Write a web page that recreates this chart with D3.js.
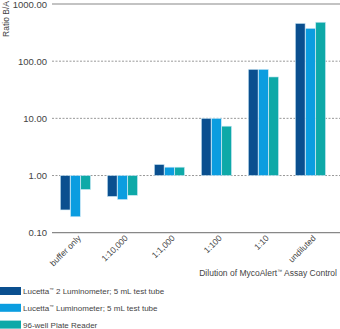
<!DOCTYPE html>
<html>
<head>
<meta charset="utf-8">
<script src="https://cdn.jsdelivr.net/npm/d3@7"></script>
<style>
  body { margin: 0; background: #fff; }
  text { font-family: "Liberation Sans", Arial, sans-serif; fill: #444; }
</style>
</head>
<body>
<svg class="chart" width="340" height="329"></svg>
<script>
const categories = ['buffer only', '1:10,000', '1:1,000', '1:100', '1:10', 'undiluted']
const seriesNames = [['Lucetta', ' 2 Luminometer; 5 mL test tube'], ['Lucetta', ' Luminometer; 5 mL test tube'], ['96-well Plate Reader', '']]
const lucetta2 = [0.25, 0.43, 1.56, 10, 72, 458]
const lucetta = [0.19, 0.38, 1.4, 10, 72, 375]
const plateReader = [0.57, 0.45, 1.4, 7.3, 53, 480]
const yTicks = [0.1, 1, 10, 100, 1000]
const colors = ['#0a4f8f', '#0b9de0', '#0ea9a8']

const series = [lucetta2, lucetta, plateReader]

const svg = d3.select('.chart')
const plotLeft = 52, plotRight = 340, plotTop = 4, plotBottom = 232.7

const y = d3.scaleLog().domain([0.1, 1000]).range([plotBottom, plotTop])
const x0 = d3.scaleBand().domain(categories).range([plotLeft, plotRight])
  .paddingInner(0.34).paddingOuter(0.234).align(0.36)
const x1 = d3.scaleBand().domain([0, 1, 2]).range([0, x0.bandwidth()]).padding(0.04)

// grid lines
svg.append('g').selectAll('line').data(yTicks).join('line')
  .attr('x1', plotLeft).attr('x2', plotRight)
  .attr('y1', d => y(d)).attr('y2', d => y(d))
  .attr('stroke', d => (d === 0.1 || d === 1000) ? '#888' : '#999')
  .attr('stroke-width', d => (d === 0.1 || d === 1000) ? 1.2 : 1)
  .attr('stroke-dasharray', d => (d === 0.1 || d === 1000) ? null : '2,1.5')

// y tick labels
svg.append('g').selectAll('text').data(yTicks).join('text')
  .attr('x', 47).attr('y', d => y(d) + 3.5)
  .attr('text-anchor', 'end')
  .attr('font-size', 9.5)
  .text(d => d3.format('.2f')(d))

// y title
svg.append('text')
  .attr('transform', 'translate(9,1) rotate(-90)')
  .attr('text-anchor', 'end')
  .attr('font-size', 8.5)
  .text('Ratio B/A')

// bars
const groups = svg.append('g').selectAll('g').data(categories).join('g')
  .attr('transform', d => `translate(${x0(d)},0)`)

groups.selectAll('rect')
  .data((c, i) => series.map((s, k) => ({ k, v: s[i] })))
  .join('rect')
  .attr('x', d => x1(d.k))
  .attr('width', x1.bandwidth())
  .attr('y', d => Math.min(y(d.v), y(1)))
  .attr('height', d => Math.abs(y(d.v) - y(1)))
  .attr('fill', d => colors[d.k])
  .attr('stroke', '#cfe9f7')
  .attr('stroke-width', 0.6)

// x labels
svg.append('g').selectAll('text').data(categories).join('text')
  .attr('transform', d => `translate(${x0(d) + x0.bandwidth() / 2 + 6},${plotBottom + 6}) rotate(-45)`)
  .attr('text-anchor', 'end')
  .attr('font-size', 8.5)
  .text(d => d)

// x title
const xTitle = svg.append('text')
  .attr('x', 337).attr('y', 276)
  .attr('text-anchor', 'end')
  .attr('font-size', 8.5)
  .attr('fill', '#333')
xTitle.append('tspan').text('Dilution of MycoAlert')
xTitle.append('tspan').attr('font-size', 5).attr('dy', -3).text('\u2122')
xTitle.append('tspan').attr('dy', 3).text(' Assay Control')

// legend
const legend = svg.append('g').selectAll('g').data(seriesNames).join('g')
  .attr('transform', (d, i) => `translate(0,${287 + i * 16.8})`)
legend.append('rect')
  .attr('width', 21).attr('height', 8)
  .attr('fill', (d, i) => colors[i])
const legendText = legend.append('text')
  .attr('x', 23).attr('y', 7)
  .attr('font-size', 8)
legendText.append('tspan').text(d => d[0])
legendText.filter(d => d[1]).append('tspan').attr('font-size', 4.5).attr('dy', -3).text('\u2122')
legendText.filter(d => d[1]).append('tspan').attr('dy', 3).text(d => d[1])
</script>
</body>
</html>
